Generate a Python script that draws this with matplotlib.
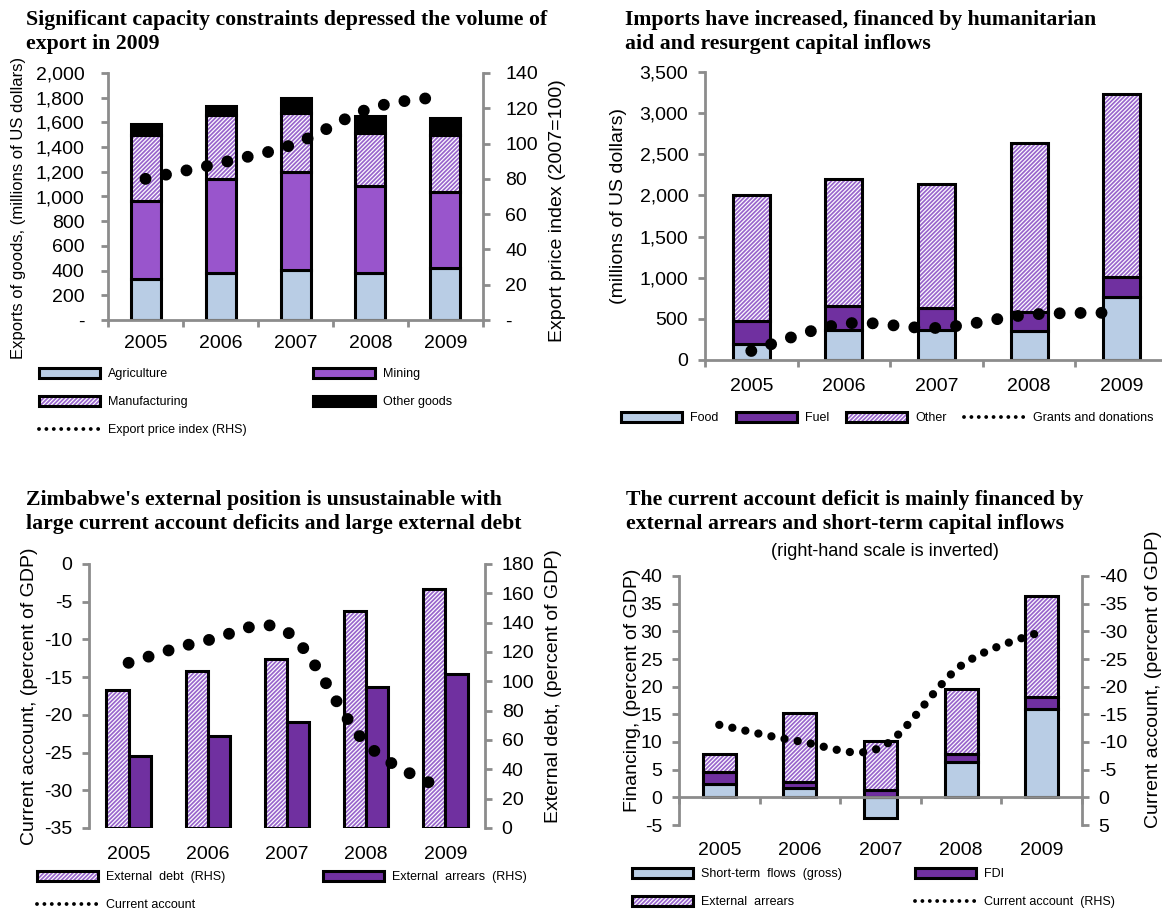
import matplotlib
matplotlib.use('Agg')
import matplotlib.pyplot as plt
import numpy as np
from matplotlib.patches import Patch, PathPatch
from matplotlib.lines import Line2D
from matplotlib.path import Path
from matplotlib.ticker import FuncFormatter, MultipleLocator

plt.rcParams['font.family'] = ['Liberation Sans', 'DejaVu Sans']
plt.rcParams['axes.unicode_minus'] = False
plt.rcParams['hatch.linewidth'] = 1.25

# ── Colours ──
GRAY = '#8C8C8C'
LIGHT_BLUE = '#B9CDE5'
MID_PURPLE = '#9955CC'
DARK_PURPLE = '#7030A0'
HATCH_PURPLE = '#9966CC'
HATCH = '////////'
TITLE_FONT = dict(family=['Liberation Serif', 'DejaVu Serif'], weight='bold',
                  fontsize=15.7, linespacing=1.25, va='top')

# ── Data ──
years = ['2005', '2006', '2007', '2008', '2009']

# exports of goods, millions of US dollars
exp_agriculture = [330, 378, 405, 378, 419]
exp_mining = [635, 762, 792, 703, 621]
exp_manufacturing = [535, 522, 479, 433, 460]
exp_other = [86, 73, 124, 135, 135]
export_price_index = [80, 89, 100, 120, 127]

# imports, millions of US dollars
imp_food = [190, 365, 365, 350, 770]
imp_fuel = [280, 290, 270, 235, 240]
imp_other = [1530, 1540, 1500, 2050, 2225]
grants_donations = [110, 440, 390, 550, 575]

# external position, percent of GDP
external_debt = [94, 107, 115, 148, 163]
external_arrears = [49, 63, 72, 96, 105]
current_account = [-13.1, -10.1, -9.0, -23.8, -30.0]

# financing of the current account, percent of GDP
fin_short_term = [2.5, 1.6, -3.8, 6.4, 15.9]
fin_fdi = [2.1, 1.1, 1.4, 1.4, 2.3]
fin_arrears = [3.2, 12.6, 8.8, 11.7, 18.1]

W, H = 1162, 915
fig = plt.figure(figsize=(W / 100, H / 100), dpi=100)
x = np.arange(len(years))


def place_axes(left, top, right, bottom):
    return fig.add_axes([left / W, 1 - bottom / H, (right - left) / W, (bottom - top) / H])


def fig_text(px, py, s, **kw):
    kw.setdefault('ha', 'left')
    kw.setdefault('va', 'center')
    fig.text(px / W, 1 - py / H, s, **kw)


def style_axes(ax, spines, xpad=11, ypad=7):
    for name, sp in ax.spines.items():
        sp.set_visible(name in spines)
        sp.set_color(GRAY)
        sp.set_linewidth(2)
    ax.tick_params(axis='y', length=5, width=2, color=GRAY, direction='out',
                   labelsize=14, pad=ypad)
    ax.set_xlim(-0.5, len(years) - 0.5)
    ax.set_xticks(x, years)
    ax.set_xticks(np.arange(-0.5, len(years), 1), minor=True)
    ax.tick_params(axis='x', which='major', length=0, pad=xpad, labelsize=14)
    ax.tick_params(axis='x', which='minor', length=5, width=2, color=GRAY,
                   direction='out')


def smooth_path(xs, ys):
    # Catmull-Rom style cubic Bezier through the data points
    pts = np.column_stack([xs, ys]).astype(float)
    ext = np.vstack([pts[0], pts, pts[-1]])
    verts, codes = [pts[0]], [Path.MOVETO]
    for i in range(len(pts) - 1):
        p0, p1, p2, p3 = ext[i], ext[i + 1], ext[i + 2], ext[i + 3]
        verts += [p1 + (p2 - p0) / 6, p2 - (p3 - p1) / 6, p2]
        codes += [Path.CURVE4] * 3
    return Path(verts, codes)


def dotted_curve(ax, xs, ys, lw=8.6, gap=1.75):
    ax.add_patch(PathPatch(smooth_path(xs, ys), fill=False, edgecolor='black',
                           linewidth=lw, linestyle=(0, (0.001, gap)),
                           capstyle='round', zorder=5))


def solid_bars(ax, xs, h, bottom, width, color):
    ax.bar(xs, h, width, bottom=bottom, color=color, edgecolor='black',
           linewidth=2.2, zorder=2)


def hatched_bars(ax, xs, h, bottom, width):
    ax.bar(xs, h, width, bottom=bottom, color='white', edgecolor=HATCH_PURPLE,
           hatch=HATCH, linewidth=0, zorder=2)
    ax.bar(xs, h, width, bottom=bottom, fill=False, edgecolor='black',
           linewidth=2.2, zorder=2)


def solid_handle(color):
    return Patch(facecolor=color, edgecolor='black', linewidth=2.2)


def hatched_handle():
    return (Patch(facecolor='white', edgecolor=HATCH_PURPLE, hatch=HATCH, linewidth=0),
            Patch(fill=False, edgecolor='black', linewidth=2.2))


def dot_handle():
    return Line2D([], [], color='black', linewidth=2.8,
                  linestyle=(0, (0.001, 1.9)), dash_capstyle='round')


def add_legend(handles, labels, px, py, ncol, colspace):
    fig.legend(handles, labels, loc='upper left',
               bbox_to_anchor=(px / W, 1 - py / H), ncol=ncol, frameon=False,
               fontsize=9, handlelength=4.9, handleheight=0.8, handletextpad=0.65,
               labelspacing=1.28, columnspacing=colspace, borderpad=0,
               borderaxespad=0)


dash_zero = FuncFormatter(lambda v, p: '-' if v == 0 else f'{v:,.0f}')
thousands = FuncFormatter(lambda v, p: f'{v:,.0f}')

# ── Exports ──
ax = place_axes(108, 73, 483, 320)
b1 = np.array(exp_agriculture)
b2 = b1 + exp_mining
b3 = b2 + exp_manufacturing
solid_bars(ax, x, exp_agriculture, 0, 0.4, LIGHT_BLUE)
solid_bars(ax, x, exp_mining, b1, 0.4, MID_PURPLE)
hatched_bars(ax, x, exp_manufacturing, b2, 0.4)
solid_bars(ax, x, exp_other, b3, 0.4, 'black')
ax.set_ylim(0, 2000)
ax.yaxis.set_major_locator(MultipleLocator(200))
ax.yaxis.set_major_formatter(dash_zero)
style_axes(ax, ['left', 'bottom'], ypad=12)
ax2 = ax.twinx()
ax2.set_ylim(0, 140)
ax2.yaxis.set_major_locator(MultipleLocator(20))
ax2.yaxis.set_major_formatter(dash_zero)
style_axes(ax2, ['right'], ypad=11)
ax2.tick_params(axis='x', which='both', length=0)
dotted_curve(ax2, x, export_price_index)

fig_text(26, 10, 'Significant capacity constraints depressed the volume of\nexport in 2009',
         **TITLE_FONT)
fig_text(19, 208, 'Exports of goods, (millions of US dollars)', rotation=90,
         ha='center', fontsize=12)
fig_text(558, 211, 'Export price index (2007=100)', rotation=90, ha='center', fontsize=14)
add_legend([solid_handle(LIGHT_BLUE), hatched_handle(), dot_handle(),
            solid_handle(MID_PURPLE), solid_handle('black')],
           ['Agriculture', 'Manufacturing', 'Export price index (RHS)',
            'Mining', 'Other goods'], 39, 368, 2, 5.3)

# ── Imports ──
ax = place_axes(705, 72, 1168, 360)
f1 = np.array(imp_food)
f2 = f1 + imp_fuel
solid_bars(ax, x, imp_food, 0, 0.4, LIGHT_BLUE)
solid_bars(ax, x, imp_fuel, f1, 0.4, DARK_PURPLE)
hatched_bars(ax, x, imp_other, f2, 0.4)
dotted_curve(ax, x, grants_donations)
ax.set_ylim(0, 3500)
ax.yaxis.set_major_locator(MultipleLocator(500))
ax.yaxis.set_major_formatter(thousands)
style_axes(ax, ['left', 'bottom'], xpad=13)

fig_text(625, 10, 'Imports have increased, financed by humanitarian\naid and resurgent capital inflows',
         **TITLE_FONT)
fig_text(619, 206, '(millions of US dollars)', rotation=90, ha='center', fontsize=14)
add_legend([solid_handle(LIGHT_BLUE), solid_handle(DARK_PURPLE), hatched_handle(),
            dot_handle()],
           ['Food', 'Fuel', 'Other', 'Grants and donations'], 621, 412, 4, 1.35)

# ── External position ──
ax = place_axes(89, 564, 485, 828)
ax2 = ax.twinx()
hatched_bars(ax2, x - 0.14, external_debt, 0, 0.28)
solid_bars(ax2, x + 0.14, external_arrears, 0, 0.28, DARK_PURPLE)
ax2.set_ylim(0, 180)
ax2.yaxis.set_major_locator(MultipleLocator(20))
style_axes(ax2, ['right'])
ax2.tick_params(axis='x', which='both', length=0, labelbottom=False)
dotted_curve(ax, x, current_account)
ax.set_ylim(-35, 0)
ax.yaxis.set_major_locator(MultipleLocator(5))
style_axes(ax, ['left'], xpad=13)
ax.tick_params(axis='x', which='minor', length=0)
ax.set_zorder(ax2.get_zorder() + 1)
ax.patch.set_visible(False)

fig_text(26, 490, "Zimbabwe's external position is unsustainable with\n"
         "large current account deficits and large external debt", **TITLE_FONT)
fig_text(30, 696, 'Current account, (percent of GDP)', rotation=90, ha='center', fontsize=14)
fig_text(554, 686, 'External debt, (percent of GDP)', rotation=90, ha='center', fontsize=14)
add_legend([hatched_handle(), dot_handle(), solid_handle(DARK_PURPLE)],
           ['External  debt  (RHS)', 'Current account', 'External  arrears  (RHS)'],
           37, 871, 2, 7.8)

# ── Financing ──
ax = place_axes(679, 576, 1082, 825)
s = np.array(fin_short_term)
fdi_base = np.maximum(s, 0)
arr_base = fdi_base + fin_fdi
solid_bars(ax, x, fin_short_term, 0, 0.41, LIGHT_BLUE)
solid_bars(ax, x, fin_fdi, fdi_base, 0.41, DARK_PURPLE)
hatched_bars(ax, x, fin_arrears, arr_base, 0.41)
ax.set_ylim(-5, 40)
ax.yaxis.set_major_locator(MultipleLocator(5))
style_axes(ax, ['left', 'bottom'], xpad=32)
ax.spines['bottom'].set_position(('data', 0))
ax2 = ax.twinx()
ax2.set_ylim(5, -40)
ax2.yaxis.set_major_locator(MultipleLocator(5))
style_axes(ax2, ['right'])
ax2.tick_params(axis='x', which='both', length=0, labelbottom=False)
dotted_curve(ax2, x, current_account, lw=6, gap=1.6)

fig_text(626, 490, 'The current account deficit is mainly financed by\n'
         'external arrears and short-term capital inflows', **TITLE_FONT)
fig_text(885, 552, '(right-hand scale is inverted)', ha='center', fontsize=13)
fig_text(632, 690, 'Financing, (percent of GDP)', rotation=90, ha='center', fontsize=14)
fig_text(1154, 679, 'Current account, (percent of GDP)', rotation=90, ha='center', fontsize=14)
add_legend([solid_handle(LIGHT_BLUE), hatched_handle(), solid_handle(DARK_PURPLE),
            dot_handle()],
           ['Short-term  flows  (gross)', 'External  arrears', 'FDI',
            'Current account  (RHS)'], 632, 868, 2, 5.8)

fig.savefig('out.png', dpi=100, facecolor='white')
plt.close(fig)
